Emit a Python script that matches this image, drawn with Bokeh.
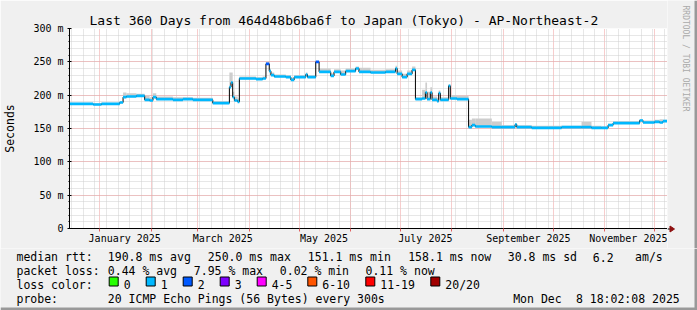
import math
import pandas as pd
from bokeh.plotting import figure
from bokeh.layouts import column, row
from bokeh.models import Range1d, FixedTicker, DatetimeTickFormatter, Title
from bokeh.core.properties import value
from bokeh.embed import file_html
from bokeh.resources import INLINE

MONO = "DejaVu Sans Mono"

title_text = "Last 360 Days from 464d48b6ba6f to Japan (Tokyo) - AP-Northeast-2"
watermark_text = "RRDTOOL / TOBI OETIKER"
period_start = "2024-12-13 18:02"
period_end = "2025-12-08 18:02"

seg_start = [
    "2024-12-13 18:02", "2024-12-28", "2025-01-02", "2025-01-13", "2025-01-15",
    "2025-01-17", "2025-01-23", "2025-01-28", "2025-01-31", "2025-02-02",
    "2025-02-04", "2025-02-14", "2025-02-20", "2025-02-26", "2025-03-10",
    "2025-03-20", "2025-03-21", "2025-03-22", "2025-03-23", "2025-03-25",
    "2025-03-26", "2025-04-05", "2025-04-09", "2025-04-11", "2025-04-13",
    "2025-04-14", "2025-04-16", "2025-04-23", "2025-04-26", "2025-04-28",
    "2025-05-05", "2025-05-06", "2025-05-11", "2025-05-13", "2025-05-20",
    "2025-05-22", "2025-05-26", "2025-05-29", "2025-06-04", "2025-06-06",
    "2025-06-13", "2025-06-22", "2025-06-28", "2025-06-29", "2025-07-02",
    "2025-07-05", "2025-07-08", "2025-07-10", "2025-07-14", "2025-07-16",
    "2025-07-17", "2025-07-19", "2025-07-20", "2025-07-23", "2025-07-24",
    "2025-07-25", "2025-07-30", "2025-07-31", "2025-08-04", "2025-08-11",
    "2025-08-13", "2025-08-15", "2025-08-25", "2025-08-31", "2025-09-08",
    "2025-09-09", "2025-09-18", "2025-10-06", "2025-10-18", "2025-10-24",
    "2025-10-30", "2025-11-03", "2025-11-06", "2025-11-22", "2025-11-24",
    "2025-12-01", "2025-12-04", "2025-12-06",
]
median_ms = [
    187, 186, 187, 189, 197, 198, 199, 193, 192, 197,
    194, 193, 194, 193, 188, 212, 219, 197, 192, 190,
    225, 224, 225, 247, 236, 230, 228, 227, 223, 227,
    231, 227, 250, 235, 229, 235, 231, 236, 240, 235,
    234, 235, 240, 232, 227, 232, 238, 194, 195, 204,
    194, 204, 193, 191, 203, 193, 214, 195, 194, 152,
    155, 153, 152, 152, 156, 152, 151, 152, 152, 151,
    151, 155, 158, 162, 159, 160, 159, 161,
]
smoke_top_ms = [
    188.5, 188, 188.5, 191, 204, 203, 202, 199, 197, 203,
    198, 197, 197, 196, 191, 234, 234, 205, 198, 195,
    228, 227, 228, 250, 240, 234, 231, 230, 226, 230,
    234, 230, 251, 240, 233, 239, 237, 240, 243, 241,
    238, 239, 244, 237, 232, 237, 243, 197, 208, 219,
    205, 212, 198, 196, 207, 197, 216, 200, 199, 163,
    165, 165, 160, 155, 158, 155, 154, 154, 160, 154,
    153, 157, 161, 164, 162, 163, 164, 163,
]
loss_class = [1] * len(seg_start)
loss_class[23] = 2
loss_class[32] = 2

loss_colors = ["#26ff00", "#00b8ff", "#0059ff", "#7e00ff", "#ff00ff", "#ff5500", "#ff0000", "#a10000"]
loss_labels = ["0", "1", "2", "3", "4-5", "6-10", "11-19", "20/20"]

y_ticks = [0, 50, 100, 150, 200, 250, 300]
y_tick_labels = ["0", "50 m", "100 m", "150 m", "200 m", "250 m", "300 m"]
x_label_dates = ["2025-01-16", "2025-03-16", "2025-05-16", "2025-07-16", "2025-09-16", "2025-11-16"]

stats_rtt = ["190.8 ms avg", "250.0 ms max", "151.1 ms min", "158.1 ms now", "30.8 ms sd", "6.2", "am/s"]
stats_loss = ["0.44 % avg", "7.95 % max", "0.02 % min", "0.11 % now"]
probe_text = "20 ICMP Echo Pings (56 Bytes) every 300s"
stamp_parts = ["Mon Dec", "8 18:02:08 2025"]


def ms(s):
    return pd.Timestamp(s).value / 1e6


def no_align(fig):
    try:
        fig.frame_align = False
    except AttributeError:
        pass


BG = "#f0f0f0"
EDGE = "#999999"
ARROW = "#8e1010"
W, H = 697, 310
TOP_H = 248           # height of the chart part
FL, FR, FT, FB = 67, 667, 28, 228
CW = FR               # chart figure ends at the right edge of the plot area

p = figure(width=CW, height=TOP_H, output_backend="svg", toolbar_location=None,
           x_axis_type="datetime",
           x_range=Range1d(ms(period_start), ms(period_end)), y_range=Range1d(0, 300),
           min_border_left=FL, min_border_right=0, min_border_top=FT,
           min_border_bottom=TOP_H - FB)
no_align(p)
p.title = Title(text=title_text, align="left", offset=20, text_font=MONO,
                text_font_size="13px", text_font_style="normal", text_color="black",
                standoff=1)
p.border_fill_color = BG
p.background_fill_color = "white"
p.outline_line_color = None

lefts = [ms(s) for s in seg_start]
rights = lefts[1:] + [ms(period_end)]

# smoke
p.quad(left=lefts, right=rights, bottom=[m - 1 for m in median_ms], top=smoke_top_ms,
       fill_color="#cdcdcd", line_color=None)
# median line
p.step(x=lefts + [rights[-1]], y=median_ms + [median_ms[-1]], mode="after",
       line_color="black", line_width=1)
# loss coloured band
p.quad(left=lefts, right=rights, bottom=[m - 2.0 for m in median_ms],
       top=[m + 2.0 for m in median_ms],
       fill_color=[loss_colors[c] for c in loss_class], line_color=None)

# grids
month_starts = [ms(d) for d in pd.date_range("2025-01-01", "2025-12-01", freq="MS")]
sundays = [ms(d) for d in pd.date_range("2024-12-15", "2025-12-07", freq="7D")]
p.xgrid.ticker = FixedTicker(ticks=month_starts, minor_ticks=sundays)
p.ygrid.ticker = FixedTicker(ticks=y_ticks, minor_ticks=list(range(0, 301, 10)))
for g in (p.xgrid[0], p.ygrid[0]):
    g.grid_line_color = "#ee9a9a"
    g.grid_line_dash = "1 1"
    g.minor_grid_line_color = "#cfcfcf"
    g.minor_grid_line_dash = "1 1"

# axes
xa = p.xaxis[0]
xa.ticker = FixedTicker(ticks=[ms(d) for d in x_label_dates], minor_ticks=month_starts)
xa.formatter = DatetimeTickFormatter(months="%B %Y", days="%B %Y", years="%B %Y")
xa.major_tick_line_color = None
xa.major_tick_out = 0
xa.major_tick_in = 0
xa.minor_tick_line_color = "#e06060"
xa.minor_tick_out = 3
xa.minor_tick_in = 0
xa.major_label_standoff = 1
xa.major_label_text_font = MONO
xa.major_label_text_font_size = "10px"
xa.major_label_text_color = "black"
xa.axis_line_color = "black"

ya = p.yaxis[0]
ya.ticker = FixedTicker(ticks=y_ticks, minor_ticks=list(range(0, 301, 10)))
ya.major_label_overrides = {t: l for t, l in zip(y_ticks, y_tick_labels)}
ya.major_tick_out = 2
ya.major_tick_in = 2
ya.minor_tick_out = 1
ya.minor_tick_in = 0
ya.major_label_standoff = 4
ya.major_label_text_font = MONO
ya.major_label_text_font_size = "10px"
ya.major_label_text_color = "black"
ya.axis_line_color = "black"
ya.axis_label = "Seconds"
ya.axis_label_text_font = MONO
ya.axis_label_text_font_size = "11.5px"
ya.axis_label_text_font_style = "normal"
ya.axis_label_text_color = "black"
ya.axis_label_standoff = 13

# side panel right of the plot area: x-axis arrow, watermark, dark edge
# (pixel coordinates, y downwards, x measured from the plot area's right edge)
SW = W - CW
side = figure(width=SW, height=TOP_H, output_backend="svg", toolbar_location=None,
              title=None, x_axis_location=None, y_axis_location=None, min_border=0,
              x_range=Range1d(0, SW), y_range=Range1d(TOP_H, 0))
no_align(side)
side.grid.visible = False
side.outline_line_color = None
side.background_fill_color = BG
side.border_fill_color = BG
side.quad(left=[SW - 3], right=[SW], top=[0], bottom=[TOP_H], fill_color=EDGE, line_color=None)
side.segment(x0=[0], y0=[FB + 0.5], x1=[2.5], y1=[FB + 0.5], line_color="black", line_width=1)
side.patch(x=[2.5, 2.5, 7], y=[FB - 2.5, FB + 3.5, FB + 0.5], fill_color=ARROW,
           line_color=ARROW, line_width=1)
side.text(x=[685 - CW], y=[5], text=[watermark_text], angle=-math.pi / 2,
          text_font=value(MONO), text_font_size="8px", text_color="#aaaaaa",
          text_align="left", text_baseline="alphabetic")

# legend part below the chart (pixel coordinates, y downwards)
LH = H - TOP_H
q = figure(width=W, height=LH, output_backend="svg", toolbar_location=None,
           title=None, x_axis_location=None, y_axis_location=None, min_border=0,
           x_range=Range1d(0, W), y_range=Range1d(LH, 0))
no_align(q)
q.grid.visible = False
q.outline_line_color = None
q.background_fill_color = BG
q.border_fill_color = BG

DY = 1.5
L1, L2, L3, L4 = [v - TOP_H - DY for v in (258.3, 272.1, 285.9, 299.7)]
tx, ty, tt = [], [], []


def add(t, x, y):
    tx.append(x)
    ty.append(y)
    tt.append(t)


add("median rtt:", 16, L1)
for x, t in zip([107.3, 207.3, 307.3, 407.7, 507.3, 592.3, 634.6], stats_rtt):
    add(t, x, L1)
add("packet loss:", 16, L2)
for x, t in zip([107.3, 193.3, 279.3, 365.0], stats_loss):
    add(t, x, L2)
add("loss color:", 16, L3)
sq_x = [108.7, 145.7, 182.7, 219.7, 256.7, 307.3, 365.3, 430.3]
for x, t in zip(sq_x, loss_labels):
    add(t, x + 14.5, L3)
add("probe:", 16, L4)
add(probe_text, 107.3, L4)
for x, t in zip([512.7, 575.4], stamp_parts):
    add(t, x, L4)

q.text(x=tx, y=ty, text=tt, text_font=value(MONO), text_font_size="11.5px",
       text_baseline="alphabetic", text_align="left", text_color="black")
q.quad(left=sq_x, right=[x + 9 for x in sq_x], top=[278 - TOP_H - DY] * len(sq_x),
       bottom=[287 - TOP_H - DY] * len(sq_x), fill_color=loss_colors, line_color="black", line_width=1)
# dark bottom / right edges
q.quad(left=[0, W - 3], right=[W, W], top=[LH - 3, 0], bottom=[LH, LH],
       fill_color=EDGE, line_color=None)

layout = column(row(p, side, spacing=0), q, spacing=0)
open("out.html", "w").write(file_html(layout, INLINE))
